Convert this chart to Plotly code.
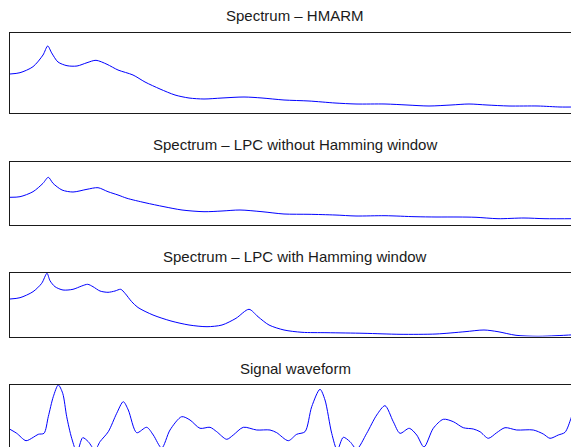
import plotly.graph_objects as go

# Panel 1: Spectrum - HMARM  (frequency in Hz, level in dB)
hmarm_freq = [0, 70, 161, 231, 264, 292, 336, 399, 469, 539, 602, 679, 756, 861, 945, 1050, 1155,
              1253, 1358, 1484, 1638, 1764, 1918, 2093, 2275, 2422, 2625, 2779, 2933, 3087, 3213,
              3339, 3493, 3696, 3850, 3955]
hmarm_db = [39, 40.3, 46.3, 58, 67, 60, 51, 47.3, 47, 50.3, 52.7, 48.7, 43, 38, 31, 24, 18,
            15, 14, 15, 16, 15, 13, 12, 10, 9, 9, 8, 7, 8, 9,
            8, 7, 7, 6, 6]

# Panel 2: Spectrum - LPC without Hamming window
lpc_freq = [0, 70, 161, 231, 268, 301, 364, 441, 539, 616, 686, 756, 819, 945, 1078, 1204, 1358,
            1484, 1610, 1764, 1918, 2093, 2275, 2422, 2625, 2835, 2982, 3136, 3262, 3416, 3598,
            3745, 3955]
lpc_db = [27.7, 28.3, 33.3, 41.7, 47.7, 41.7, 35, 33, 35.7, 37.3, 33.3, 30, 26.7, 22.3, 18.3, 15, 13.3,
          14, 15, 13.3, 11, 10.7, 10, 9, 9.3, 8.3, 8, 8, 7.7, 6.3, 7,
          6.3, 6.3]

# Panel 3: Spectrum - LPC with Hamming window
lpch_freq = [0, 70, 161, 222, 259, 280, 315, 371, 441, 502, 544, 581, 630, 686, 735, 775, 805,
             852, 896, 1001, 1127, 1253, 1379, 1484, 1582, 1673, 1736, 1813, 1918, 2044, 2219,
             2478, 2730, 2982, 3185, 3318, 3416, 3542, 3696, 3822, 3955]
lpch_db = [37, 38.3, 44.3, 52.7, 62.7, 55.3, 49.3, 46, 46.7, 50, 51.7, 49.3, 45, 43.7, 45, 46.7, 42.7,
           34.3, 28.5, 21, 15, 11, 9.3, 11, 17.7, 26.7, 19.3, 11, 6, 3.7, 3.3,
           2.7, 1.7, 2, 4.3, 6, 4.3, 0.7, -0.3, 0.3, 1.3]

# Panel 4: Signal waveform (sample index, amplitude)
wave_n = [0, 47, 112, 163, 198, 238, 268, 303, 338, 369, 397, 432, 469, 509, 548, 595, 630, 688,
          747, 793, 828, 887, 957, 1003, 1062, 1120, 1202, 1260, 1330, 1400, 1447, 1517, 1563,
          1633, 1727, 1820, 1867, 1948, 2007, 2065, 2112, 2170, 2205, 2252, 2291, 2333, 2380,
          2427, 2497, 2567, 2625, 2683, 2730, 2795, 2847, 2898, 2963, 3033, 3103, 3173, 3243,
          3290, 3348, 3407, 3465, 3547, 3663, 3733, 3780, 3838, 3885, 3927, 3955]
wave_a = [0.7, -3.3, -10.7, -7.3, -4.3, -3.3, 13.3, 33.3, 45, 36.7, 13.3, -8.3, -22, -7.7, -11.7, -20, -11.7, -1.7,
          16.7, 28.3, 20, -2.7, 2.7, -5, -18, 0, 13.3, 10, 1.7, 2.7, -1.7, -9.3, -5,
          2.7, 0, 0, -2.7, -10.7, -4.3, -1.7, 23.3, 40.7, 30, -3.3, -20, -7.3, -11.7,
          -19, -3.3, 15, 24.3, 8.3, -3.3, 1.7, -5, -17, 1.7, 10.7, 8.3, 2.3, 1,
          -1.7, -8.3, -2.7, 2.3, 0, 0, -4, -8.3, -5, -2.3, 11.7, 25]

titles = ["Spectrum \u2013 HMARM", "Spectrum \u2013 LPC without Hamming window",
          "Spectrum \u2013 LPC with Hamming window", "Signal waveform"]

W, H = 571, 447
x_dom = [10 / W, 1.0]
x_rng = [0, 3927]

# (top_px, bottom_px) for each panel
panels_px = [(33, 113), (161.7, 225), (273, 336.5), (384.5, 447)]
y_ranges = [[0, 80], [0, 63.3], [-0.5, 63], [-17, 45.5]]
title_px = [16, 144, 256, 368]

series = [(hmarm_freq, hmarm_db), (lpc_freq, lpc_db), (lpch_freq, lpch_db), (wave_n, wave_a)]

fig = go.Figure()
border = "#1a1a1a"
for i, (xs, ys) in enumerate(series):
    k = "" if i == 0 else str(i + 1)
    fig.add_trace(go.Scatter(x=xs, y=ys, mode="lines",
                             line=dict(color="#0000ff", width=1, shape="spline", smoothing=0.8),
                             xaxis="x" + k, yaxis="y" + k, showlegend=False, hoverinfo="skip"))
    top, bot = panels_px[i]
    ydom = [(H - bot) / H, (H - top) / H]
    if i < 3:
        xa = dict(domain=x_dom, range=x_rng, showline=True, mirror=True, linecolor=border,
                  linewidth=1.3, showticklabels=False, ticks="", showgrid=False, zeroline=False,
                  anchor="y" + k)
    else:
        xa = dict(domain=x_dom, range=x_rng, showline=True, mirror=False, side="top",
                  linecolor=border, linewidth=1.3, showticklabels=False, ticks="",
                  showgrid=False, zeroline=False, anchor="y" + k)
    ya = dict(domain=ydom, range=y_ranges[i], showline=True, mirror=False, linecolor=border,
              linewidth=1.3, showticklabels=False, ticks="", showgrid=False, zeroline=False,
              anchor="x" + k)
    fig.layout["xaxis" + k] = xa
    fig.layout["yaxis" + k] = ya
    fig.add_annotation(text=titles[i], xref="paper", yref="paper", x=295 / W,
                       y=(H - title_px[i]) / H, xanchor="center", yanchor="middle",
                       showarrow=False, font=dict(family="Liberation Sans, Arial, sans-serif",
                                                  size=15, color="#1a1a1a"))

fig.update_layout(width=W, height=H, margin=dict(l=0, r=0, t=0, b=0),
                  paper_bgcolor="white", plot_bgcolor="white")
fig.write_html("out.html", config={"displayModeBar": False},
               post_script="document.body.style.margin='0';document.body.style.overflow='hidden';")
